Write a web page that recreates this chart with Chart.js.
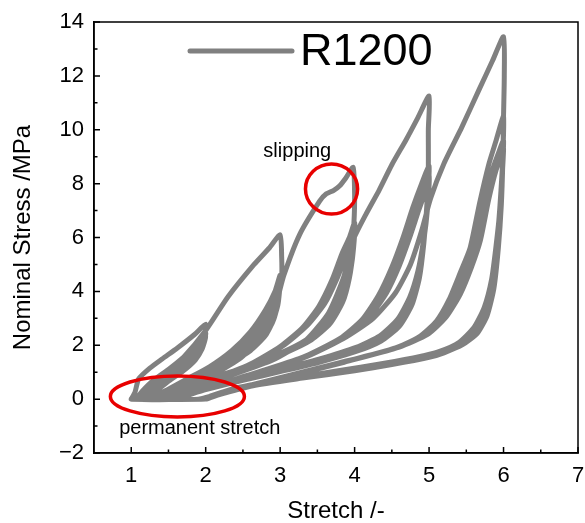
<!DOCTYPE html>
<html><head><meta charset="utf-8">
<script src="https://cdn.jsdelivr.net/npm/chart.js@4.4.1/dist/chart.umd.min.js"></script>
<style>html,body{margin:0;padding:0;background:#fff;}#wrap{width:585px;height:523px;}</style>
</head><body><div id="wrap"><canvas id="c" width="585" height="523"></canvas></div>
<script>
// ---------- data ----------
const seriesLabel = 'R1200';
const xTickValues = [1, 2, 3, 4, 5, 6, 7];
const yTickValues = [-2, 0, 2, 4, 6, 8, 10, 12, 14];
const xMinorTicks = [1.5, 2.5, 3.5, 4.5, 5.5, 6.5];
const yMinorTicks = [-1, 1, 3, 5, 7, 9, 11, 13];
const xTitle = 'Stretch /-';
const yTitle = 'Nominal Stress /MPa';
const noteSlip = {text: 'slipping', x: 3.23, y: 9.0};
const notePerm = {text: 'permanent stretch', x: 1.92, y: -1.3};
const ellipseSlip = {x: 3.69, y: 7.80, rx: 0.35, ry: 0.93};
const ellipsePerm = {x: 1.62, y: 0.10, rx: 0.90, ry: 0.76};

// stretch / stress pairs, cycles to max stretch 2
const cyclesTo2 = [
 [1.00,0],[1.05,0.25],[1.10,0.75],[1.25,1.15],[1.42,1.5],[1.62,1.9],[1.85,2.4],[2.00,2.78],
 [1.98,2.3],[1.93,1.85],[1.82,1.45],[1.66,1.1],[1.48,0.75],[1.3,0.4],[1.15,0.1],[1.08,0],[1.0,0],
 [1.06,0],[1.15,0.3],[1.3,0.7],[1.5,1.1],[1.7,1.55],[1.87,2.0],[2.0,2.45],
 [1.96,2.0],[1.88,1.6],[1.74,1.25],[1.57,0.9],[1.4,0.55],[1.22,0.18],[1.1,0],[1.0,0],
 [1.08,0],[1.18,0.28],[1.35,0.65],[1.55,1.05],[1.75,1.5],[1.9,1.95],[2.0,2.35],
 [1.95,1.9],[1.86,1.5],[1.72,1.15],[1.55,0.8],[1.38,0.45],[1.22,0.12],[1.12,0],[1.0,0],
 [1.1,0],[1.2,0.25],[1.38,0.6],[1.6,1.05],[1.8,1.55],[1.93,1.95],[2.0,2.3],
 [1.95,1.85],[1.86,1.45],[1.7,1.05],[1.52,0.7],[1.35,0.35],[1.2,0.08],[1.12,0],[1.0,0]
];
// cycles to max stretch 3
const cyclesTo3 = [
 [1.1,0],[1.2,0.3],[1.4,0.8],[1.7,1.55],[2.0,2.55],[2.3,3.8],[2.65,5.0],[2.85,5.6],[3.0,6.1],
 [3.02,5.3],[3.02,4.55],[2.97,3.7],[2.88,2.85],[2.72,2.2],[2.5,1.65],[2.2,1.15],[1.9,0.75],[1.6,0.4],[1.35,0.08],[1.25,0],[1.0,0],
 [1.2,0],[1.45,0.3],[1.75,0.75],[2.05,1.2],[2.35,1.8],[2.6,2.5],[2.8,3.3],[2.93,4.0],[3.0,4.6],
 [2.98,3.8],[2.92,3.0],[2.8,2.35],[2.6,1.8],[2.3,1.3],[2.0,0.9],[1.65,0.48],[1.38,0.12],[1.27,0],[1.0,0],
 [1.22,0],[1.48,0.3],[1.8,0.75],[2.1,1.2],[2.4,1.75],[2.65,2.45],[2.83,3.2],[2.95,3.9],[3.0,4.4],
 [2.97,3.6],[2.9,2.9],[2.77,2.3],[2.57,1.78],[2.28,1.28],[1.98,0.88],[1.65,0.48],[1.4,0.12],[1.28,0],[1.0,0],
 [1.24,0],[1.5,0.28],[1.85,0.72],[2.15,1.15],[2.45,1.7],[2.7,2.4],[2.86,3.1],[2.96,3.75],[3.0,4.3],
 [2.97,3.5],[2.89,2.8],[2.75,2.22],[2.55,1.72],[2.25,1.22],[1.95,0.82],[1.65,0.45],[1.4,0.1],[1.3,0],[1.0,0]
];
// cycles to max stretch 4
const cyclesTo4 = [
 [1.28,0],[1.6,0.35],[2.1,0.9],[2.5,1.6],[2.8,2.6],[2.95,3.6],[3.05,4.6],[3.26,6.1],[3.53,7.35],[3.62,7.62],[3.72,7.75],[3.8,7.92],[3.88,8.2],[3.98,8.6],
 [4.0,7.6],[3.99,6.5],[3.96,5.5],[3.89,4.5],[3.78,3.6],[3.6,2.8],[3.35,2.2],[3.0,1.7],[2.5,1.15],[2.0,0.7],[1.6,0.3],[1.42,0.05],[1.38,0],[1.0,0],
 [1.3,0],[1.6,0.3],[2.1,0.75],[2.6,1.3],[3.0,1.95],[3.3,2.65],[3.52,3.45],[3.7,4.45],[3.83,5.4],[3.93,6.0],[4.0,6.55],
 [3.98,5.5],[3.93,4.5],[3.84,3.6],[3.67,2.8],[3.42,2.2],[3.05,1.7],[2.55,1.2],[2.05,0.75],[1.65,0.32],[1.45,0.05],[1.4,0],[1.0,0],
 [1.32,0],[1.62,0.3],[2.12,0.75],[2.62,1.32],[3.02,1.98],[3.33,2.7],[3.56,3.5],[3.73,4.45],[3.86,5.35],[3.95,5.9],[4.0,6.3],
 [3.97,5.3],[3.92,4.4],[3.82,3.55],[3.65,2.78],[3.4,2.18],[3.03,1.68],[2.53,1.18],[2.03,0.73],[1.65,0.3],[1.45,0.05],[1.4,0],[1.0,0],
 [1.35,0],[1.65,0.3],[2.15,0.75],[2.65,1.32],[3.05,2.0],[3.36,2.72],[3.6,3.55],[3.76,4.45],[3.88,5.3],[3.96,5.85],[4.0,6.15],
 [3.97,5.2],[3.91,4.3],[3.81,3.5],[3.63,2.75],[3.38,2.15],[3.02,1.65],[2.52,1.15],[2.02,0.7],[1.66,0.3],[1.47,0.05],[1.42,0],[1.0,0]
];
// cycles to max stretch 5
const cyclesTo5 = [
 [1.42,0],[1.75,0.35],[2.3,0.85],[2.9,1.45],[3.35,2.2],[3.65,3.2],[3.85,4.5],[3.98,5.9],[4.15,6.85],[4.33,7.76],[4.5,8.7],[4.69,9.62],[4.85,10.45],[5.0,11.25],
 [4.99,10.0],[4.99,8.6],[4.97,7.2],[4.93,5.8],[4.87,4.5],[4.77,3.5],[4.6,2.7],[4.35,2.15],[4.0,1.75],[3.5,1.35],[3.0,1.02],[2.5,0.7],[2.0,0.35],[1.65,0.05],[1.55,0],[1.0,0],
 [1.5,0],[2.0,0.42],[2.7,0.97],[3.3,1.55],[3.8,2.25],[4.1,2.95],[4.32,3.85],[4.5,4.9],[4.65,6.0],[4.78,7.1],[4.9,8.0],[5.0,8.65],
 [4.98,7.4],[4.94,6.1],[4.88,4.9],[4.78,3.85],[4.62,3.0],[4.38,2.35],[4.05,1.9],[3.55,1.45],[3.0,1.08],[2.5,0.75],[2.0,0.38],[1.67,0.06],[1.57,0],[1.0,0],
 [1.52,0],[2.02,0.42],[2.72,0.98],[3.33,1.57],[3.84,2.28],[4.15,3.0],[4.38,3.9],[4.55,4.9],[4.7,6.0],[4.82,7.0],[4.93,7.8],[5.0,8.3],
 [4.98,7.1],[4.93,5.9],[4.86,4.8],[4.76,3.8],[4.6,2.98],[4.36,2.35],[4.03,1.9],[3.53,1.45],[3.0,1.08],[2.5,0.75],[2.0,0.38],[1.68,0.06],[1.58,0],[1.0,0],
 [1.55,0],[2.05,0.42],[2.75,0.98],[3.36,1.58],[3.88,2.3],[4.2,3.05],[4.43,3.95],[4.6,4.95],[4.74,6.0],[4.86,7.0],[4.95,7.7],[5.0,8.05],
 [4.97,6.9],[4.92,5.8],[4.85,4.75],[4.74,3.78],[4.58,2.97],[4.34,2.35],[4.02,1.92],[3.52,1.48],[3.0,1.1],[2.5,0.76],[2.0,0.4],[1.7,0.07],[1.6,0],[1.0,0]
];
// cycles to max stretch 6
const cyclesTo6 = [
 [1.58,0],[2.05,0.45],[2.7,1.0],[3.3,1.55],[3.85,2.25],[4.25,3.0],[4.55,3.95],[4.75,5.0],[4.9,6.25],[5.02,7.45],[5.2,8.75],[5.44,10.1],[5.67,11.48],[5.85,12.55],[6.0,13.45],
 [6.01,12.0],[6.0,10.5],[5.99,8.8],[5.97,7.2],[5.93,5.6],[5.87,4.1],[5.78,3.1],[5.65,2.45],[5.45,2.02],[5.2,1.72],[5.0,1.55],[4.5,1.28],[4.0,1.05],[3.3,0.78],[2.6,0.48],[2.15,0.14],[2.0,0],[1.0,0],
 [1.9,0],[2.3,0.3],[3.0,0.8],[3.8,1.35],[4.5,1.85],[4.86,2.3],[5.1,2.9],[5.27,3.7],[5.42,4.7],[5.55,5.6],[5.68,7.3],[5.8,8.7],[5.9,9.6],[6.0,10.5],
 [5.99,9.0],[5.97,7.5],[5.93,6.0],[5.87,4.6],[5.79,3.5],[5.66,2.7],[5.46,2.15],[5.2,1.8],[4.9,1.58],[4.4,1.32],[3.8,1.05],[3.1,0.75],[2.5,0.45],[2.1,0.14],[1.95,0],[1.0,0],
 [1.92,0],[2.32,0.3],[3.03,0.8],[3.83,1.36],[4.55,1.9],[4.92,2.35],[5.17,2.98],[5.35,3.8],[5.5,4.8],[5.62,5.75],[5.74,7.3],[5.85,8.5],[5.94,9.2],[6.0,9.6],
 [5.98,8.4],[5.95,7.1],[5.91,5.8],[5.85,4.5],[5.76,3.45],[5.63,2.68],[5.43,2.13],[5.18,1.8],[4.88,1.58],[4.38,1.32],[3.78,1.05],[3.08,0.75],[2.48,0.45],[2.1,0.14],[1.96,0],[1.0,0],
 [1.94,0],[2.35,0.3],[3.06,0.8],[3.86,1.37],[4.6,1.93],[4.98,2.4],[5.23,3.05],[5.42,3.9],[5.57,4.9],[5.69,5.9],[5.8,7.4],[5.9,8.5],[5.97,9.0],[6.0,9.3],
 [5.98,8.2],[5.95,7.0],[5.9,5.7],[5.84,4.45],[5.74,3.4],[5.6,2.65],[5.4,2.1],[5.15,1.78],[4.85,1.56],[4.35,1.3],[3.75,1.04],[3.05,0.74],[2.45,0.44],[2.08,0.13],[1.96,0]
];

// ---------- chart ----------
const FONT = "'Liberation Sans', Arial, sans-serif";
const LINE_GRAY = '#808080';
const RED = 'rgb(232,0,0)';
const points = [].concat(cyclesTo2, cyclesTo3, cyclesTo4, cyclesTo5, cyclesTo6).map(p => ({x: p[0], y: p[1]}));

const decor = {
  id: 'decor',
  afterDatasetsDraw(chart) {
    const ctx = chart.ctx, ca = chart.chartArea, xs = chart.scales.x, ys = chart.scales.y;
    ctx.save();
    // annotations
    ctx.strokeStyle = RED; ctx.lineWidth = 3.5;
    [ellipseSlip, ellipsePerm].forEach(e => {
      const cx = xs.getPixelForValue(e.x), cy = ys.getPixelForValue(e.y);
      const rx = Math.abs(xs.getPixelForValue(e.x + e.rx) - cx);
      const ry = Math.abs(ys.getPixelForValue(e.y + e.ry) - cy);
      ctx.beginPath(); ctx.ellipse(cx, cy, rx, ry, 0, 0, Math.PI * 2); ctx.stroke();
    });
    ctx.fillStyle = '#000'; ctx.font = '20px ' + FONT; ctx.textAlign = 'center'; ctx.textBaseline = 'alphabetic';
    [noteSlip, notePerm].forEach(n => ctx.fillText(n.text, xs.getPixelForValue(n.x), ys.getPixelForValue(n.y)));
    // legend
    ctx.strokeStyle = LINE_GRAY; ctx.lineWidth = 5; ctx.lineCap = 'round';
    ctx.beginPath(); ctx.moveTo(ca.left + 96, ca.top + 29); ctx.lineTo(ca.left + 198, ca.top + 29); ctx.stroke();
    ctx.font = '45px ' + FONT; ctx.textAlign = 'left';
    ctx.fillText(seriesLabel, ca.left + 206, ca.top + 43);
    // frame and inward ticks
    ctx.strokeStyle = '#000'; ctx.lineWidth = 1.5; ctx.lineCap = 'butt';
    ctx.strokeRect(ca.left, ca.top, ca.right - ca.left, ca.bottom - ca.top);
    ctx.beginPath();
    xTickValues.forEach(v => { const p = xs.getPixelForValue(v); ctx.moveTo(p, ca.bottom); ctx.lineTo(p, ca.bottom - 6); });
    xMinorTicks.forEach(v => { const p = xs.getPixelForValue(v); ctx.moveTo(p, ca.bottom); ctx.lineTo(p, ca.bottom - 3.5); });
    yTickValues.forEach(v => { const p = ys.getPixelForValue(v); ctx.moveTo(ca.left, p); ctx.lineTo(ca.left + 6, p); });
    yMinorTicks.forEach(v => { const p = ys.getPixelForValue(v); ctx.moveTo(ca.left, p); ctx.lineTo(ca.left + 3.5, p); });
    ctx.stroke();
    ctx.restore();
  }
};

new Chart(document.getElementById('c'), {
  type: 'scatter',
  data: { datasets: [{
    label: seriesLabel, data: points, showLine: true, pointRadius: 0,
    borderColor: LINE_GRAY, borderWidth: 5, tension: 0.2,
    borderJoinStyle: 'round', borderCapStyle: 'round'
  }]},
  options: {
    responsive: false, animation: false, devicePixelRatio: 1,
    layout: { padding: { top: 22, right: 7, left: 0, bottom: 0 } },
    plugins: { legend: { display: false }, tooltip: { enabled: false } },
    scales: {
      x: {
        type: 'linear', min: 0.5, max: 7,
        afterBuildTicks: s => { s.ticks = xTickValues.map(v => ({value: v})); },
        afterFit: s => { s.height = 70; s.paddingLeft = 0; s.paddingRight = 0; },
        grid: { display: false, drawTicks: false },
        border: { display: true, color: '#000', width: 1.5 },
        ticks: { font: { family: FONT, size: 22 }, color: '#000', padding: 10, maxRotation: 0 },
        title: { display: true, text: xTitle, font: { family: FONT, size: 24, lineHeight: 1 }, color: '#000', padding: { top: 0, bottom: 0 } }
      },
      y: {
        type: 'linear', min: -2, max: 14,
        afterBuildTicks: s => { s.ticks = yTickValues.map(v => ({value: v})); },
        afterFit: s => { s.width = 94; s.paddingTop = 0; s.paddingBottom = 0; },
        grid: { display: false, drawTicks: false },
        border: { display: true, color: '#000', width: 1.5 },
        ticks: { font: { family: FONT, size: 22 }, color: '#000', padding: 10,
          callback: v => String(v).replace('-', '\u2212') },
        title: { display: true, text: yTitle, font: { family: FONT, size: 24, lineHeight: 1 }, color: '#000', padding: { top: 11, bottom: 0 } }
      }
    }
  },
  plugins: [decor]
});
</script>
</body></html>
